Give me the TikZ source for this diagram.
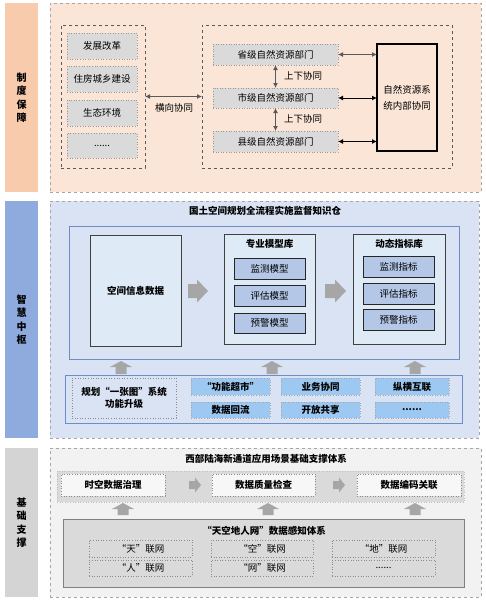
\documentclass[tikz,border=0pt]{standalone}
\usepackage{fontspec}
\setmainfont{Noto Sans CJK SC}
\usetikzlibrary{arrows.meta}
\definecolor{stripA}{HTML}{F8CBAD}
\definecolor{panelA}{HTML}{FBE5D6}
\definecolor{stripB}{HTML}{8FAADC}
\definecolor{panelB}{HTML}{DAE3F3}
\definecolor{stripC}{HTML}{D4D4D4}
\definecolor{panelC}{HTML}{F2F2F2}
\definecolor{gbox}{HTML}{DADADA}
\definecolor{lblue}{HTML}{DEEBF7}
\definecolor{mblue}{HTML}{B4C7E7}
\definecolor{cblue}{HTML}{9DC8F2}
\definecolor{bline}{HTML}{6F8CC6}
\definecolor{agray}{HTML}{A6A6A6}
\definecolor{dline}{HTML}{595959}
\newcommand\bx[7]{\node[#2,anchor=north west,minimum width={(#5-#3)*1pt},minimum height={(#6-#4)*1pt}] (#1) at (#3,#4) {#7};}
\newcommand\rblk[6]{\fill[agray] (#1,{#4-#5}) -- (#2,{#4-#5}) -- (#2,{#4-#6}) -- (#3,#4) -- (#2,{#4+#6}) -- (#2,{#4+#5}) -- (#1,{#4+#5}) -- cycle;}
\newcommand\ublk[3]{\fill[agray] ({#1-5.5},#3) -- ({#1-5.5},{#2+6}) -- ({#1-11},{#2+6}) -- (#1,#2) -- ({#1+11},{#2+6}) -- ({#1+5.5},{#2+6}) -- ({#1+5.5},#3) -- cycle;}
\tikzset{
  base/.style={inner sep=0pt,outer sep=0pt,font=\fontsize{9.5}{11}\selectfont,align=center},
  strip/.style={base,font=\fontsize{10}{13.5}\selectfont\bfseries},
  panel/.style={base,draw=black!35,dashed,line width=0.5pt},
  dbox/.style={base,draw=dline,dashed,line width=0.8pt},
  gcell/.style={base,fill=gbox,draw=black!40,dotted,line width=0.6pt},
  dbl/.style={{Latex[length=5pt,width=5pt]}-{Latex[length=5pt,width=5pt]},line width=1.3pt,draw=dline},
  ttl/.style={base,font=\fontsize{9.5}{11}\selectfont\bfseries},
  libbox/.style={base,fill=lblue,draw=black!75,line width=1pt},
  mcell/.style={base,fill=mblue,draw=black!85,line width=1pt},
  ccell/.style={base,fill=cblue,draw=black!35,dotted,line width=0.6pt,font=\fontsize{9.5}{11}\selectfont\bfseries},
  wcell/.style={base,fill=white!97!black,draw=black!45,dotted,line width=0.6pt,font=\fontsize{9.5}{11}\selectfont\bfseries},
  ncell/.style={base,draw=black!45,dotted,line width=0.6pt}
}
\begin{document}
\begin{tikzpicture}[x=1pt,y=-1pt]
\useasboundingbox (0,0) rectangle (485,605);
\fill[white] (0,0) rectangle (485,605);
% ---------- top section
\bx{stripA}{strip,fill=stripA}{5}{3}{38}{192}{制\\度\\保\\障}
\bx{panelA}{panel,fill=panelA}{50}{3}{481}{192}{}
\bx{ldash}{dbox}{61}{25}{145}{168}{}
\bx{rdash}{dbox}{202}{25}{452}{168}{}
\bx{fz}{gcell}{67}{33}{137}{59}{发展改革}
\bx{zf}{gcell}{67}{66}{137}{92}{住房城乡建设}
\bx{st}{gcell}{67}{100}{137}{126}{生态环境}
\bx{dt}{gcell}{67}{133}{137}{158}{......}
\bx{prov}{gcell}{213}{44}{338}{65}{省级自然资源部门}
\bx{city}{gcell}{213}{88}{338}{108}{市级自然资源部门}
\bx{cnty}{gcell}{213}{131}{338}{152}{县级自然资源部门}
\bx{sys}{base,draw=black,line width=1.2pt,font=\fontsize{9.5}{16}\selectfont}{377}{44}{437}{151}{自然资源系\\统内部协同}
\draw[dbl] (ldash.east) -- (rdash.west);
\node[base] (hx) at (174,108) {横向协同};
\draw[dbl] (prov.south) -- (city.north);
\draw[dbl] (city.south) -- (cnty.north);
\node[base,anchor=west] (sx1) at (284,76) {上下协同};
\node[base,anchor=west] (sx2) at (284,119) {上下协同};
\draw[dbl] (prov.east) -- (prov.east -| sys.west);
\draw[dbl,line width=1pt,draw=black] (city.east) -- (city.east -| sys.west);
\draw[dbl,line width=1pt,draw=black] (cnty.east) -- (cnty.east -| sys.west);
% ---------- middle section
\bx{stripB}{strip,fill=stripB}{5}{201}{38}{438}{智\\慧\\中\\枢}
\bx{panelB}{panel,fill=panelB}{50}{201}{479}{438}{}
\node[ttl] (tB) at (265,211) {国土空间规划全流程实施监督知识仓};
\bx{inner}{base,draw=bline,line width=1pt}{69}{226}{459}{359}{}
\bx{sid}{libbox,font=\fontsize{9.5}{11}\selectfont\bfseries}{90}{235}{181}{346}{空间信息数据}
\bx{lib1}{libbox}{224}{234}{315}{344}{}
\node[ttl] (lt1) at (269.5,244) {专业模型库};
\bx{m1}{mcell}{234}{258}{305}{279}{监测模型}
\bx{m2}{mcell}{234}{285}{305}{306}{评估模型}
\bx{m3}{mcell}{234}{313}{305}{333}{预警模型}
\bx{lib2}{libbox}{353}{234}{445}{344}{}
\node[ttl] (lt2) at (399,244) {动态指标库};
\bx{i1}{mcell}{363}{256}{434}{277}{监测指标}
\bx{i2}{mcell}{363}{283}{434}{304}{评估指标}
\bx{i3}{mcell}{363}{309}{434}{330}{预警指标}
\rblk{188}{197}{208}{291}{7}{11.5}
\rblk{325}{335}{346}{291}{7}{11.5}
\ublk{121}{361}{374}
\ublk{272}{361}{374}
\ublk{415}{361}{374}
\bx{bot}{base,draw=bline,line width=1pt}{65}{375}{462}{423}{}
\bx{plan}{ncell,font=\fontsize{9.5}{12}\selectfont\bfseries}{72}{378}{176}{418}{规划“一张图”系统\\功能升级}
\bx{c11}{ccell}{191}{378}{270}{395}{“功能超市”}
\bx{c12}{ccell}{281}{378}{360}{395}{业务协同}
\bx{c13}{ccell}{375}{378}{449}{395}{纵横互联}
\bx{c21}{ccell}{191}{402}{270}{418}{数据回流}
\bx{c22}{ccell}{281}{402}{360}{418}{开放共享}
\bx{c23}{ccell}{375}{402}{449}{418}{......}
% ---------- bottom section
\bx{stripC}{strip,fill=stripC}{5}{448}{38}{597}{基\\础\\支\\撑}
\bx{panelC}{panel,fill=panelC}{50}{448}{481}{597}{}
\node[ttl] (tC) at (266,459) {西部陆海新通道应用场景基础支撑体系};
\bx{band}{base,fill=gbox,draw=black!25,dotted,line width=0.6pt}{57}{471}{464}{502}{}
\bx{t1}{wcell}{61}{474}{165}{496}{时空数据治理}
\bx{t2}{wcell}{212}{474}{315}{496}{数据质量检查}
\bx{t3}{wcell}{357}{474}{461}{496}{数据编码关联}
\rblk{189}{195}{201}{485}{4}{7.5}
\rblk{333}{339}{345}{485}{4}{7.5}
\ublk{123}{503}{515}
\ublk{268}{503}{515}
\ublk{415}{503}{515}
\bx{sense}{base,fill=gbox,draw=black!50,line width=1pt}{63}{519}{464}{587}{}
\node[ttl] (tS) at (264,531) {“天空地人网”数据感知体系};
\bx{s11}{ncell}{89}{540}{192}{557}{“天”联网}
\bx{s12}{ncell}{211}{540}{313}{557}{“空”联网}
\bx{s13}{ncell}{332}{540}{435}{557}{“地”联网}
\bx{s21}{ncell}{89}{560}{192}{576}{“人”联网}
\bx{s22}{ncell}{211}{560}{313}{576}{“网”联网}
\bx{s23}{ncell}{332}{560}{435}{576}{......}
\end{tikzpicture}
\end{document}
